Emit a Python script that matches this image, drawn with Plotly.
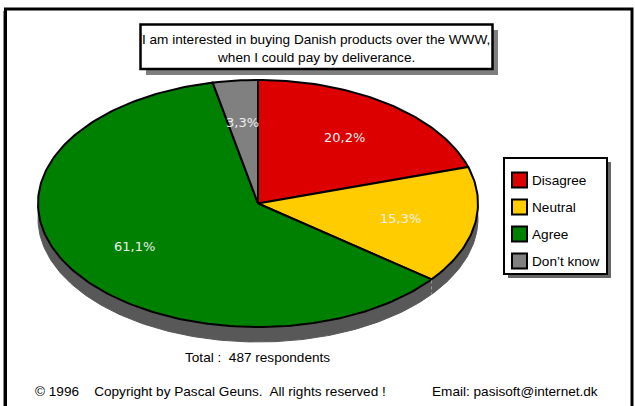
import numpy as np
import plotly.graph_objects as go

# Survey answers
categories = ["Disagree", "Neutral", "Agree", "Don\u2019t know"]
shares = [20.2, 15.3, 61.1, 3.3]
colors = ["#dd0000", "#ffcc00", "#008000", "#808080"]
title_lines = ["I am interested in buying Danish products over the WWW,",
               "when I could pay by deliverance."]
total_respondents = 487
footer_left = "\u00a9 1996\u00a0\u00a0\u00a0 Copyright by Pascal Geuns.\u00a0 All rights reserved !"
footer_right = "Email: pasisoft@internet.dk"

W, H = 635, 406
CX, CY = 258, 203.5          # pie centre (pixel units on both axes)
RX, RY = 220, 123.5          # tilted pie radii
DEPTH = 15                   # thickness of the pie rim
LABEL_R = 0.66
TXT = "Liberation Sans, Arial, sans-serif"
LBL = "DejaVu Sans, sans-serif"
FS = 13.6


def ell(theta, dy=0.0, r=1.0):
    return CX + r * RX * np.sin(theta), CY + dy - r * RY * np.cos(theta)


fig = go.Figure()

# rim / shadow under the pie
t = np.linspace(0, 2 * np.pi, 400)
sx, sy = ell(t, DEPTH)
fig.add_trace(go.Scatter(x=sx, y=sy, mode="lines", fill="toself",
                         fillcolor="#585858", line=dict(color="#585858", width=1),
                         hoverinfo="skip", showlegend=False))

total = sum(shares)
cum = np.concatenate([[0], np.cumsum(shares)]) / total
annotations = []
for i, (cat, val, col) in enumerate(zip(categories, shares, colors)):
    a0, a1 = 2 * np.pi * cum[i], 2 * np.pi * cum[i + 1]
    n = max(8, int(300 * (cum[i + 1] - cum[i])))
    th = np.linspace(a0, a1, n)
    ax_, ay_ = ell(th)
    xs = np.concatenate([[CX], ax_, [CX]])
    ys = np.concatenate([[CY], ay_, [CY]])
    fig.add_trace(go.Scatter(x=xs, y=ys, mode="lines", fill="toself",
                             fillcolor=col, line=dict(color="black", width=2),
                             hoverinfo="skip", showlegend=False))
    mid = (a0 + a1) / 2
    lx, ly = ell(mid, r=LABEL_R)
    annotations.append(dict(x=lx, y=ly, xref="x", yref="y", showarrow=False,
                            text=f"{val:.1f}".replace(".", ",") + "%",
                            font=dict(family=LBL, size=13, color="#eeeeee")))
    # slice boundaries visible on the front rim
    if np.cos(a0) < 0:
        bx, by = ell(a0)
        fig.add_trace(go.Scatter(x=[bx, bx], y=[by + 1, by + DEPTH], mode="lines",
                                 line=dict(color="#9a9a9a", width=1, dash="dot"),
                                 hoverinfo="skip", showlegend=False))

shapes = []
# outer frame
shapes.append(dict(type="line", x0=3.5, x1=3.5, y0=11, y1=H + 5, xref="x", yref="y",
                   line=dict(color="#888888", width=1)))
shapes.append(dict(type="rect", x0=5.5, y0=9, x1=632, y1=H + 10, xref="x", yref="y",
                   line=dict(color="black", width=3)))

# title box with drop shadow
shapes.append(dict(type="rect", x0=146, y0=30, x1=498, y1=75, xref="x", yref="y",
                   fillcolor="#7f7f7f", line=dict(width=0), layer="below"))
shapes.append(dict(type="rect", x0=140.5, y0=24.5, x1=492.5, y1=69, xref="x", yref="y",
                   fillcolor="white", line=dict(color="black", width=2.5)))
for k, line in enumerate(title_lines):
    annotations.append(dict(x=316, y=39 + 18 * k, xref="x", yref="y", showarrow=False,
                            text=line, font=dict(family=TXT, size=FS, color="black")))

# legend box with drop shadow
shapes.append(dict(type="rect", x0=508, y0=162, x1=611, y1=278, xref="x", yref="y",
                   fillcolor="#666666", line=dict(width=0)))
shapes.append(dict(type="rect", x0=504, y0=158, x1=607, y1=274, xref="x", yref="y",
                   fillcolor="white", line=dict(color="black", width=2)))
for i, (cat, col) in enumerate(zip(categories, colors)):
    yc = 180 + 27 * i
    shapes.append(dict(type="rect", x0=512, y0=yc - 7.5, x1=527, y1=yc + 7.5,
                       xref="x", yref="y", fillcolor=col,
                       line=dict(color="black", width=2)))
    annotations.append(dict(x=530, y=yc + 0.5, xref="x", yref="y", showarrow=False,
                            xanchor="left", text=cat,
                            font=dict(family=TXT, size=FS, color="black")))

# footer texts
annotations.append(dict(x=257, y=357, xref="x", yref="y", showarrow=False,
                        text=f"Total :\u00a0 {total_respondents} respondents",
                        font=dict(family=TXT, size=FS, color="black")))
annotations.append(dict(x=33, y=391, xref="x", yref="y", showarrow=False, xanchor="left",
                        text=footer_left, font=dict(family=TXT, size=FS, color="black")))
annotations.append(dict(x=430, y=391, xref="x", yref="y", showarrow=False, xanchor="left",
                        text=footer_right, font=dict(family=TXT, size=FS, color="black")))

fig.update_layout(
    width=W, height=H, autosize=False,
    margin=dict(l=0, r=0, t=0, b=0, pad=0),
    paper_bgcolor="white", plot_bgcolor="white",
    xaxis=dict(range=[0, W], visible=False, fixedrange=True),
    yaxis=dict(range=[H, 0], visible=False, fixedrange=True),
    shapes=shapes, annotations=annotations, showlegend=False,
)

fig.write_html("out.html", config={"displayModeBar": False})
